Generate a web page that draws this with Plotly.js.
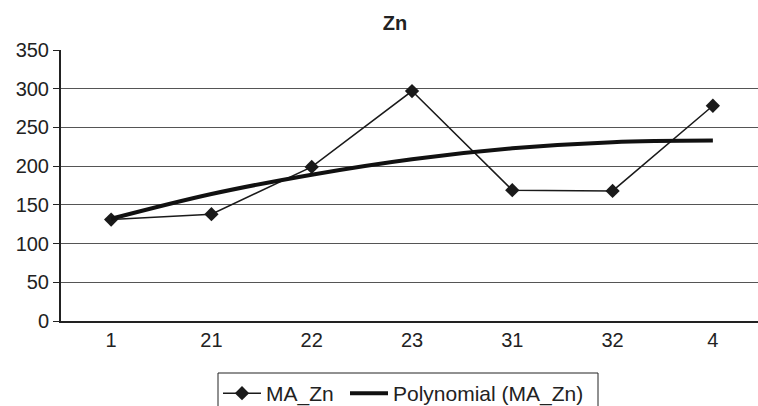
<!DOCTYPE html>
<html>
<head>
<meta charset="utf-8">
<script src="https://cdn.plot.ly/plotly-3.0.1.min.js"></script>
<style>html,body{margin:0;padding:0;background:#fff;}#chart{width:758px;height:406px;}</style>
</head>
<body>
<div id="chart"></div>
<script>
const categories = ["1", "21", "22", "23", "31", "32", "4"];
const maZn = [131, 138, 199, 297, 169, 168, 278];
const polyTrend = [132, 164, 189, 209, 223, 231, 233];
const yTicks = [0, 50, 100, 150, 200, 250, 300, 350];

const font = "Liberation Sans, Arial, sans-serif";

const traces = [
  {
    x: categories, y: maZn, name: "MA_Zn", type: "scatter", mode: "lines+markers",
    line: {color: "#1a1a1a", width: 1.5},
    marker: {symbol: "diamond", size: 11, color: "#1a1a1a"},
    legend: "legend"
  },
  {
    x: categories, y: polyTrend, name: "Polynomial (MA_Zn)", type: "scatter", mode: "lines",
    line: {color: "#111", width: 4, shape: "spline"},
    legend: "legend2"
  }
];

const legendCommon = {
  orientation: "h", xref: "container", xanchor: "left",
  y: 1 - 373/406, yref: "container", yanchor: "top",
  borderwidth: 0, bgcolor: "rgba(0,0,0,0)", itemwidth: 38,
  font: {size: 21, family: font, color: "#222"}
};

// plot-area pixel geometry used to place the legend frame
const plotLeft = 61, plotWidth = 697, plotBottom = 321, plotHeight = 271;

const layout = {
  width: 758, height: 406,
  margin: {l: 61, r: 0, t: 50, b: 85},
  paper_bgcolor: "#fff", plot_bgcolor: "#fff",
  font: {family: font, size: 20, color: "#222"},
  title: {text: "<b>Zn</b>", x: 395/758, xref: "container", xanchor: "center",
          y: 1 - 23/406, yref: "container", yanchor: "middle",
          font: {size: 20, family: font, color: "#222"}},
  showlegend: true,
  legend: Object.assign({}, legendCommon, {x: 218/758}),
  legend2: Object.assign({}, legendCommon, {x: 345/758}),
  shapes: [{
    type: "rect", xref: "paper", yref: "paper",
    x0: (218 - plotLeft)/plotWidth, x1: (598 - plotLeft)/plotWidth,
    y0: (plotBottom - 373)/plotHeight, y1: (plotBottom - 430)/plotHeight,
    line: {color: "#222", width: 1}, fillcolor: "rgba(0,0,0,0)", layer: "above"
  }],
  xaxis: {
    type: "category", range: [-0.5, 6.45],
    showgrid: false, showline: true, linecolor: "#222", linewidth: 2,
    ticks: "", tickfont: {size: 20}, fixedrange: true, zeroline: false
  },
  yaxis: {
    range: [0, 350], tickvals: yTicks, ticktext: yTicks.map(String),
    showgrid: true, gridcolor: "#555", gridwidth: 1,
    showline: true, linecolor: "#222", linewidth: 2,
    ticks: "outside", ticklen: 6, tickcolor: "#222", tickwidth: 1,
    tickfont: {size: 20}, zeroline: false, fixedrange: true
  }
};

Plotly.newPlot("chart", traces, layout, {staticPlot: true});
</script>
</body>
</html>
